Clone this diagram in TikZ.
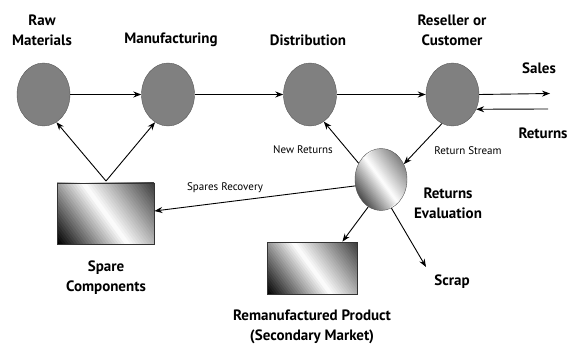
\documentclass[tikz,border=0pt]{standalone}
\usepackage{fontspec}
\setmainfont{PT Sans}
\usetikzlibrary{arrows.meta,shapes.geometric,calc}
\newcommand{\stripefill}[4]{%
  \foreach \k in {0,...,47}{%
    \pgfmathsetmacro{\t}{\k/47}%
    \pgfmathsetmacro{\p}{\t<0.5 ? #3+(100-#3)*2*\t : 100-(100-#4)*2*(\t-0.5)}%
    \fill [white!\p!black, rotate around={36:(#1)}] ($(#1)+(-#2+2*#2*\k/48,-#2)$) rectangle ++(2*#2/48+0.6,2*#2);
  }}
\tikzset{
  stage/.style={ellipse, draw=black!65, fill=black!50, minimum width=53pt, minimum height=63pt, inner sep=0pt},
  evalstage/.style={ellipse, draw=black!65, minimum width=52pt, minimum height=62pt, inner sep=0pt},
  stock/.style={rectangle, draw=black!80, line width=0.8pt, inner sep=0pt},
  head/.style={font=\bfseries\fontsize{15}{20}\selectfont, align=center},
  flowlabel/.style={font=\fontsize{11}{13}\selectfont},
  link/.style={-{Stealth[length=8pt,width=6pt]}, line width=0.9pt}
}
\begin{document}
\begin{tikzpicture}[x=1pt,y=-1pt]
    \useasboundingbox (0,0) rectangle (569,347);
    \coordinate (evalc) at (381,179.5);
    \coordinate (sparec) at (105.5,213.5);
    \coordinate (remanc) at (312,268);
    \begin{scope}
        \clip (evalc) ellipse (26 and 31);
        \stripefill{evalc}{28}{30}{52}
    \end{scope}
    \begin{scope}
        \clip ($(sparec)+(-48.5,-30.5)$) rectangle ($(sparec)+(48.5,30.5)$);
        \stripefill{sparec}{57}{0}{25}
    \end{scope}
    \begin{scope}
        \clip ($(remanc)+(-45,-26)$) rectangle ($(remanc)+(45,26)$);
        \stripefill{remanc}{52}{0}{25}
    \end{scope}
    \node [stage] (raw) at (43.5,94.5) {};
    \node [stage] (manu) at (168,94.5) {};
    \node [stage] (dist) at (310,94.5) {};
    \node [stage] (resel) at (452.5,94.5) {};
    \node [evalstage] (evalu) at (evalc) {};
    \node [stock, minimum width=97pt, minimum height=61pt] (spare) at (sparec) {};
    \node [stock, minimum width=90pt, minimum height=52pt] (reman) at (remanc) {};
    \coordinate (apex) at (106,181);
    \coordinate (salesend) at (550,93.5);
    \coordinate (retstart) at (548,109);
    \coordinate (scrapend) at (426,267);
    \draw [link] (raw) -- (manu);
    \draw [link] (manu) -- (dist);
    \draw [link] (dist) -- (resel);
    \draw [link] (resel.east) -- (salesend);
    \draw [link] (retstart) -- (resel.-32);
    \draw [link] (resel.-110) -- (evalu.34);
    \draw [link] (evalu.144) -- (dist.-63);
    \draw [link] (evalu.-166) -- ([yshift=2.5pt]spare.east);
    \draw [link] (evalu.-115) -- ([xshift=-15pt]reman.north east);
    \draw [link] (evalu.-70) -- (scrapend);
    \draw [link] (apex) -- (raw.-65);
    \draw [link] (apex) -- (manu.-115);
    \node [head] at (42,30) {Raw\\Materials};
    \node [head] at (171,40) {Manufacturing};
    \node [head] at (308,40) {Distribution};
    \node [head] at (452,30) {Reseller or\\Customer};
    \node [head] at (539,68) {Sales};
    \node [head, anchor=west] at (515,133) {Returns};
    \node [head] at (448,203.5) {Returns\\Evaluation};
    \node [head] at (106,278) {Spare\\Components};
    \node [head] at (312,326.5) {Remanufactured Product\\(Secondary Market)};
    \node [head] at (452,282) {Scrap};
    \node [flowlabel] at (303,150) {New Returns};
    \node [flowlabel] at (468,151) {Return Stream};
    \node [flowlabel] at (225,188) {Spares Recovery};
\end{tikzpicture}
\end{document}
